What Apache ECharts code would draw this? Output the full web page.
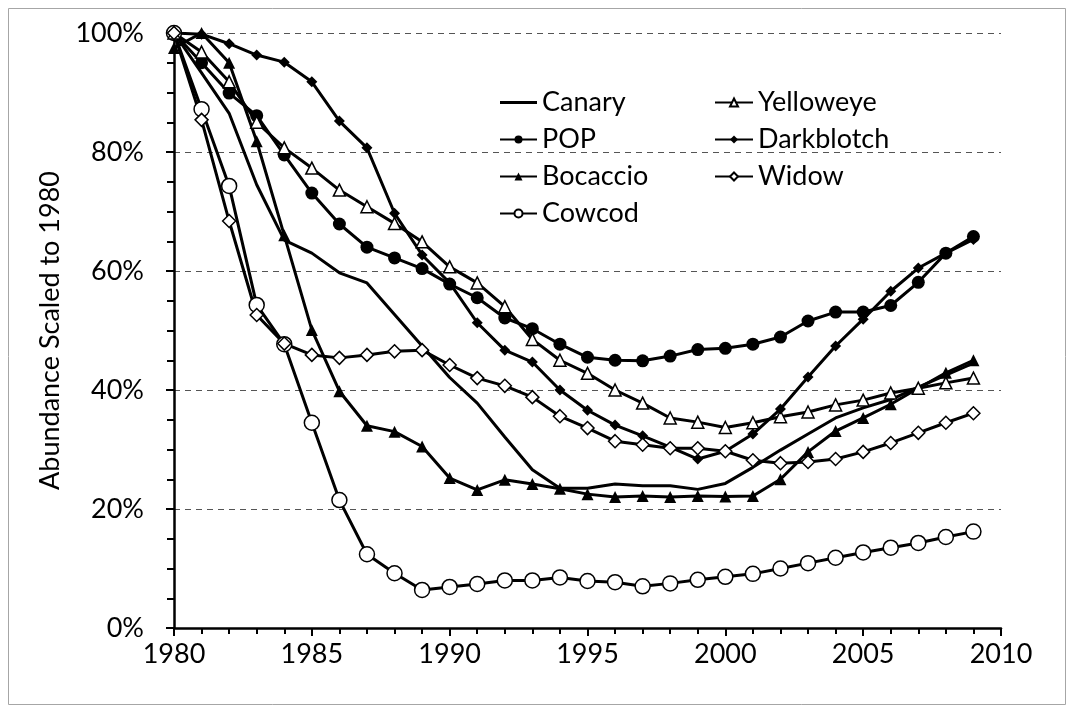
<!DOCTYPE html>
<html>
<head>
<meta charset="utf-8">
<script src="https://cdn.jsdelivr.net/npm/echarts@6/dist/echarts.min.js"></script>
<style>html,body{margin:0;padding:0;background:#fff}#c{width:1074px;height:713px}</style>
</head>
<body>
<div id="c"></div>
<script>
const years = [1980,1981,1982,1983,1984,1985,1986,1987,1988,1989,1990,1991,1992,1993,1994,1995,1996,1997,1998,1999,2000,2001,2002,2003,2004,2005,2006,2007,2008,2009];
const canary = [100,93.3,86.5,74.5,65.2,63.0,59.7,58.0,52.7,47.4,42.1,37.8,32.1,26.6,23.5,23.5,24.2,23.9,23.9,23.3,24.3,27.0,29.9,32.6,35.3,37.0,38.4,40.5,42.5,44.5];
const pop = [100,95.0,89.9,86.1,79.5,73.1,67.9,64.0,62.2,60.4,57.8,55.5,52.1,50.3,47.7,45.5,45.0,44.9,45.7,46.8,47.0,47.7,48.9,51.6,53.1,53.1,54.2,58.1,63.0,65.8];
const bocaccio = [97.5,100,95.0,81.8,66.0,50.1,39.8,34.0,33.0,30.5,25.2,23.2,24.9,24.2,23.4,22.5,22.0,22.2,22.0,22.2,22.1,22.2,25.0,29.6,33.1,35.3,37.6,40.3,42.9,45.0];
const cowcod = [100,87.2,74.3,54.3,47.7,34.5,21.5,12.4,9.2,6.4,6.9,7.4,8.0,8.0,8.5,7.9,7.7,7.0,7.5,8.1,8.6,9.1,10.0,10.9,11.8,12.7,13.5,14.3,15.3,16.2];
const yelloweye = [100,96.8,91.8,85.0,80.7,77.3,73.6,70.8,68.0,64.9,60.7,58.0,54.0,48.5,45.0,42.8,40.0,37.8,35.3,34.6,33.7,34.5,35.5,36.3,37.5,38.3,39.5,40.3,41.2,42.0];
const darkblotch = [100,99.8,98.2,96.3,95.1,91.8,85.2,80.7,69.7,62.7,58.0,51.3,46.7,44.7,40.0,36.6,34.1,32.3,30.4,28.4,29.7,32.6,36.8,42.2,47.4,51.9,56.6,60.5,63.0,65.3];
const widow = [100,85.4,68.4,52.6,47.8,45.9,45.4,45.9,46.5,46.7,44.2,42.0,40.7,38.8,35.6,33.6,31.4,30.8,30.2,30.2,29.7,28.2,27.7,27.9,28.4,29.6,31.1,32.8,34.5,36.1];
const legendCol1 = ['Canary','POP','Bocaccio','Cowcod'];
const legendCol2 = ['Yelloweye','Darkblotch','Widow'];

const FONT = 'Lato';
const FS = 27;
const zip = v => years.map((y,i)=>[y,v[i]]);
function mk(name, vals, symbol, size, fill){
  return {
    name, type:'line', data: zip(vals),
    symbol: symbol || 'none', symbolSize: size || 0, showSymbol: !!symbol,
    lineStyle:{color:'#000', width:3},
    itemStyle:{color: fill || '#000', borderColor:'#000', borderWidth: fill ? 1.5 : 0},
    emphasis:{disabled:true}, animation:false, z: 2
  };
}
const legText = {fontSize:FS, color:'#000', fontFamily:FONT, lineHeight:FS};
const lineIcon = 'path://M0,0 L37,0 L37,3 L0,3 Z';
const chart = echarts.init(document.getElementById('c'), null, {renderer:'canvas'});
chart.setOption({
  backgroundColor:'#fff',
  animation:false,
  textStyle:{fontFamily:FONT},
  graphic:[{type:'rect', shape:{x:8.5,y:8.5,width:1057,height:696}, style:{fill:'none', stroke:'#a6a6a6', lineWidth:1}, silent:true, z:-1}],
  grid:{left:174, right:73, top:33, bottom:85, containLabel:false},
  legend:[
    {data:legendCol1.map(n => n === 'Canary' ? {name:n, icon:lineIcon, itemStyle:{color:'#000'}} : n),
     orient:'vertical', left:494, top:84, itemWidth:37, itemHeight:10, itemGap:10,
     textStyle:legText, selectedMode:false},
    {data:legendCol2, orient:'vertical', left:709, top:84, itemWidth:38, itemHeight:10, itemGap:10,
     textStyle:legText, selectedMode:false}
  ],
  xAxis:{type:'value', min:1980, max:2010, interval:5,
    axisLine:{show:true, lineStyle:{color:'#000', width:2.5}},
    axisTick:{show:true, length:8, lineStyle:{color:'#000', width:2}},
    minorTick:{show:true, splitNumber:5, length:6, lineStyle:{color:'#000', width:2}},
    splitLine:{show:false},
    axisLabel:{fontSize:FS, color:'#000', margin:13, fontFamily:FONT, formatter: v => String(v)}
  },
  yAxis:{type:'value', min:0, max:100, interval:20,
    name:'Abundance Scaled to 1980', nameLocation:'middle', nameGap:110,
    nameTextStyle:{fontSize:FS, color:'#000', fontFamily:FONT},
    axisLine:{show:true, lineStyle:{color:'#000', width:2.5}},
    axisTick:{show:true, length:8, lineStyle:{color:'#000', width:2}},
    minorTick:{show:true, splitNumber:4, length:7, lineStyle:{color:'#000', width:2}},
    splitLine:{show:true, lineStyle:{color:'#555', width:1.2, type:[6,5]}},
    axisLabel:{fontSize:FS, color:'#000', margin:30, fontFamily:FONT, formatter: v => v + '%'}
  },
  series:[
    mk('Canary', canary),
    mk('POP', pop, 'circle', 13),
    mk('Bocaccio', bocaccio, 'triangle', 12),
    mk('Cowcod', cowcod, 'circle', 15, '#fff'),
    mk('Yelloweye', yelloweye, 'triangle', 12, '#fff'),
    mk('Darkblotch', darkblotch, 'diamond', 11),
    mk('Widow', widow, 'diamond', 13, '#fff')
  ]
});
</script>
</body>
</html>
